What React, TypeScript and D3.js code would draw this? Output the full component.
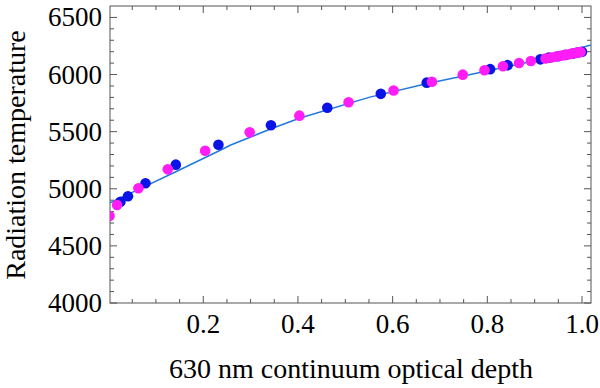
import React from "react";
import * as d3 from "d3";

const blueTau = [0.025, 0.041, 0.078, 0.142, 0.232, 0.343, 0.462, 0.575, 0.672, 0.806, 0.843, 0.912, 0.93, 0.95, 0.965, 0.98, 0.99, 1.0];
const blueT = [4887, 4934, 5048, 5211, 5386, 5556, 5709, 5831, 5929, 6047, 6082, 6133, 6148, 6160, 6172, 6183, 6192, 6200];

const magentaTau = [0.002, 0.018, 0.063, 0.125, 0.204, 0.298, 0.403, 0.507, 0.602, 0.683, 0.748, 0.794, 0.833, 0.867, 0.892, 0.923, 0.935, 0.945, 0.955, 0.962, 0.97, 0.977, 0.983, 0.988, 0.993, 0.997];
const magentaT = [4762, 4858, 5004, 5170, 5333, 5494, 5640, 5757, 5860, 5937, 5999, 6038, 6072, 6101, 6118, 6140, 6149, 6157, 6164, 6170, 6176, 6181, 6186, 6190, 6194, 6197];

const lineTau = [0.003, 0.068, 0.142, 0.237, 0.258, 0.342, 0.403, 0.55, 0.671, 0.792, 0.9, 1.019];
const lineT = [4878, 5004, 5149, 5339, 5383, 5523, 5617, 5800, 5920, 6025, 6120, 6259];

const xTicks = [0.2, 0.4, 0.6, 0.8, 1.0];
const yTicks = [4000, 4500, 5000, 5500, 6000, 6500];

const W = 600, H = 388;
const L = 110, R = 591, T = 6, B = 303;
const FONT = "Liberation Serif";

export default function App() {
  const x = d3.scaleLinear().domain([0.003, 1.019]).range([L, R]);
  const y = d3.scaleLinear().domain([4000, 6600]).range([B, T]);

  const xMinor = d3.range(0.05, 1.0001, 0.05).filter(v => !xTicks.some(t => Math.abs(t - v) < 1e-6));
  const yMinor = d3.range(4100, 6600, 100).filter(v => v % 500 !== 0);

  const line = d3.line<number>()
    .x((_, i) => x(lineTau[i]))
    .y((_, i) => y(lineT[i]));
  const path = line(lineTau) || "";

  const tickColor = "#555";
  const maj = 7, min = 4;

  return (
    <svg width={W} height={H} style={{ position: "absolute", left: 0, top: 0, background: "#fff" }}>
      <defs>
        <clipPath id="plot">
          <rect x={L} y={T} width={R - L} height={B - T} />
        </clipPath>
      </defs>
      <rect x={0} y={0} width={W} height={H} fill="#fff" />
      <g stroke={tickColor} strokeWidth={1}>
        {xTicks.map(v => (
          <g key={"xt" + v}>
            <line x1={x(v)} x2={x(v)} y1={B} y2={B - maj} />
            <line x1={x(v)} x2={x(v)} y1={T} y2={T + maj} />
          </g>
        ))}
        {xMinor.map(v => (
          <g key={"xm" + v}>
            <line x1={x(v)} x2={x(v)} y1={B} y2={B - min} />
            <line x1={x(v)} x2={x(v)} y1={T} y2={T + min} />
          </g>
        ))}
        {yTicks.map(v => (
          <g key={"yt" + v}>
            <line x1={L} x2={L + maj} y1={y(v)} y2={y(v)} />
            <line x1={R} x2={R - maj} y1={y(v)} y2={y(v)} />
          </g>
        ))}
        {yMinor.map(v => (
          <g key={"ym" + v}>
            <line x1={L} x2={L + min} y1={y(v)} y2={y(v)} />
            <line x1={R} x2={R - min} y1={y(v)} y2={y(v)} />
          </g>
        ))}
      </g>
      <rect x={L} y={T} width={R - L} height={B - T} fill="none" stroke={tickColor} strokeWidth={1} />
      <g clipPath="url(#plot)">
        <path d={path} fill="none" stroke="#2277dd" strokeWidth={1.5} />
        {blueTau.map((v, i) => (
          <circle key={"b" + i} cx={x(v)} cy={y(blueT[i])} r={5.3} fill="#0a14e6" />
        ))}
        {magentaTau.map((v, i) => (
          <circle key={"m" + i} cx={x(v)} cy={y(magentaT[i])} r={5.3} fill="#ff1cf5" />
        ))}
      </g>
      <g style={{ fontFamily: FONT }} fill="#000">
        {xTicks.map(v => (
          <text key={"xl" + v} x={x(v)} y={333} textAnchor="middle" fontSize={27}>{v.toFixed(1)}</text>
        ))}
        {yTicks.map(v => (
          <text key={"yl" + v} x={102} y={y(v) + 9} textAnchor="end" fontSize={27}>{v}</text>
        ))}
        <text x={351} y={378} textAnchor="middle" fontSize={28}>630 nm continuum optical depth</text>
        <text transform={`translate(25,155) rotate(-90)`} textAnchor="middle" fontSize={28}>Radiation temperature</text>
      </g>
    </svg>
  );
}
